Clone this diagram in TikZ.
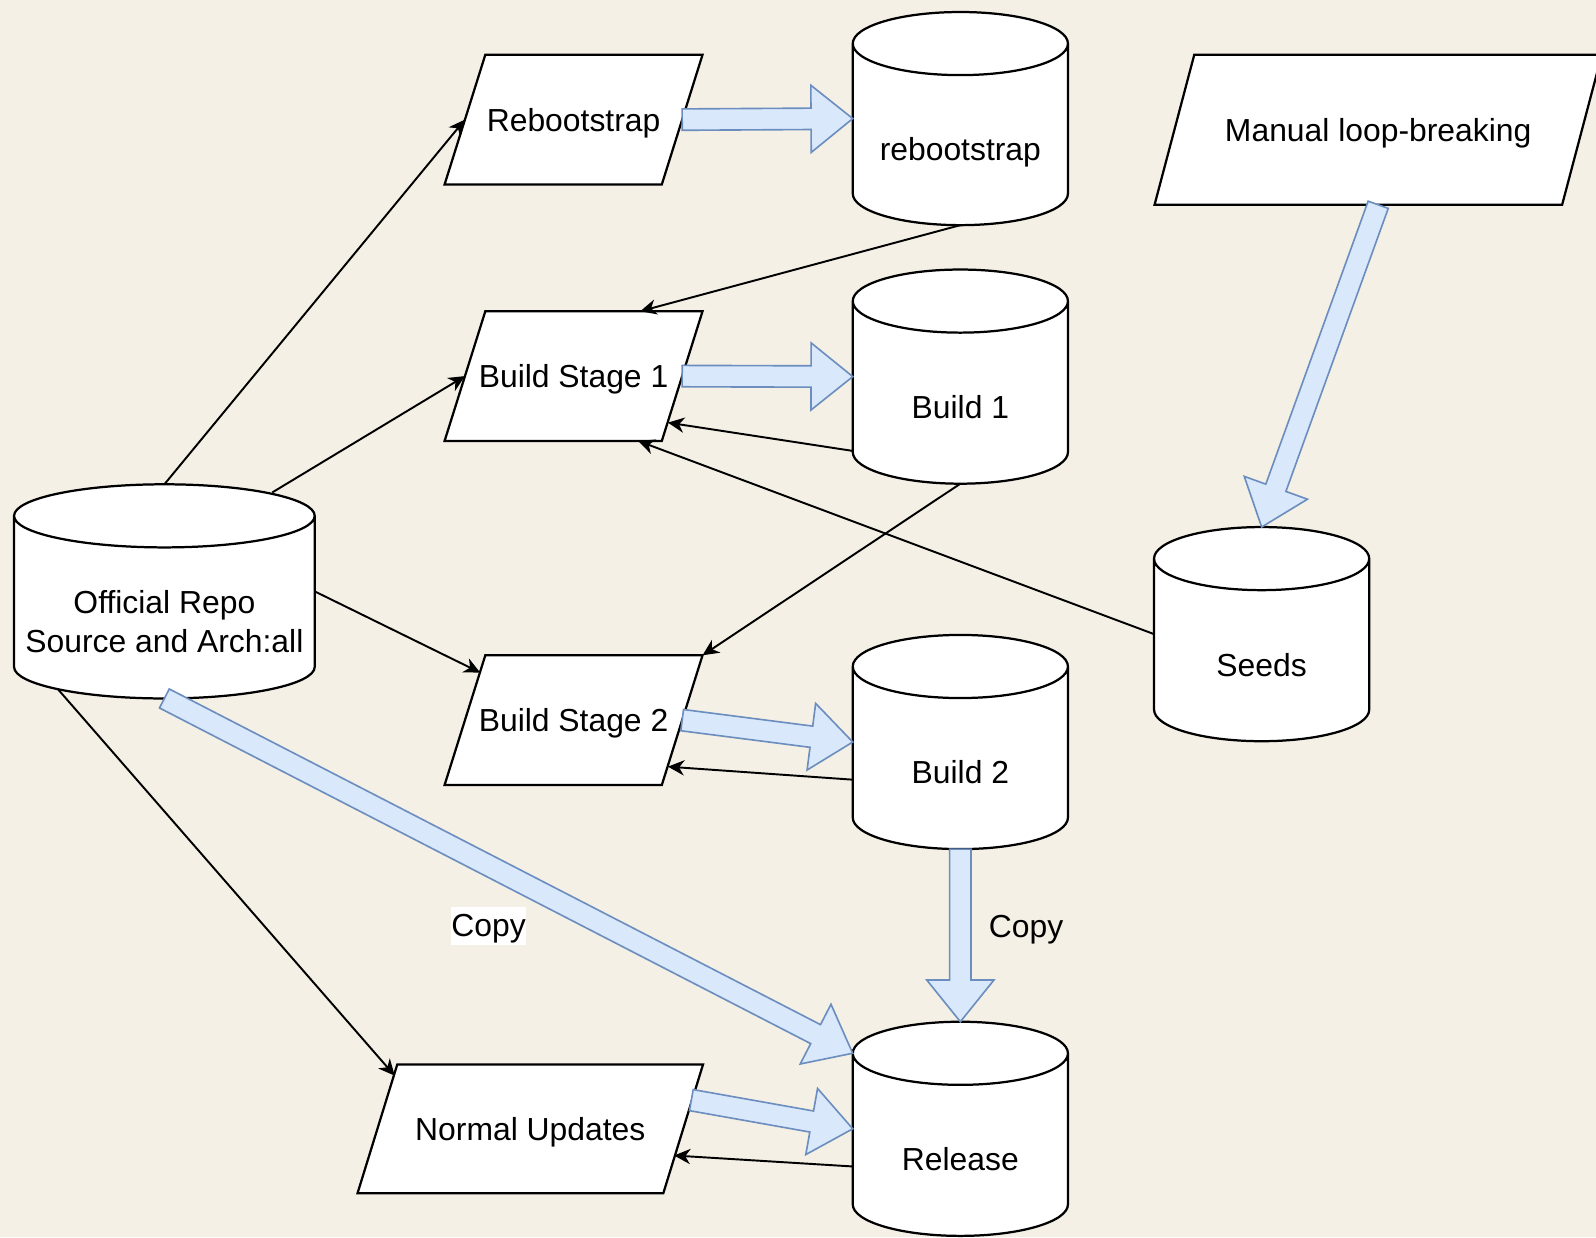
\documentclass[tikz,border=0pt]{standalone}
\usepackage{fontspec}
\setmainfont{Liberation Sans}
\usetikzlibrary{arrows.meta,calc}
\definecolor{bgc}{HTML}{F4F0E5}
\definecolor{flexfill}{HTML}{DAE8FC}
\definecolor{flexline}{HTML}{6C8EBF}
\pgfdeclarelayer{bglayer}
\pgfdeclarelayer{shapelayer}
\pgfsetlayers{bglayer,shapelayer,main}
\tikzset{
  geom/.style={rectangle, inner sep=0pt, draw=none},
  lbl/.style={font=\fontsize{31.3}{38}\selectfont, inner sep=0pt, align=center},
  one/.style={lbl, text height=22.4pt, text depth=0pt},
  shapeline/.style={draw=black, fill=white, line width=2.2pt, line join=miter},
  conn/.style={draw=black, line width=1.9pt, -{Stealth[length=16pt,width=15pt,inset=5pt]}},
  flex/.style={draw=flexline, fill=flexfill, line width=1.6pt, line join=miter},
  copybox/.style={lbl, fill=white, inner xsep=0.5pt, inner ysep=0pt, text height=29pt, text depth=8pt}
}
\newcommand\drawcyl[1]{%
  \path[shapeline] let \p1=(#1.north west), \p2=(#1.south east), \n1={(\x2-\x1)/2} in
    (\x1,\y1-31pt) -- (\x1,\y2+31pt) arc[start angle=180,end angle=360,x radius=\n1,y radius=31pt]
    -- (\x2,\y1-31pt) arc[start angle=0,end angle=180,x radius=\n1,y radius=31pt] -- cycle
    (\x1,\y1-31pt) arc[start angle=180,end angle=360,x radius=\n1,y radius=31pt];
}
\newcommand\drawpara[2]{%
  \path[shapeline] let \p1=(#1.north west), \p2=(#1.south east), \n1={#2/2} in
    (\x1+\n1,\y1) -- (\x2+\n1,\y1) -- (\x2-\n1,\y2) -- (\x1-\n1,\y2) -- cycle;
}
\newcommand\flexarrow[2]{%
  \path[flex] let \p1=(#1), \p2=(#2), \n1={atan2(\y2-\y1,\x2-\x1)}, \n2={veclen(\x2-\x1,\y2-\y1)} in
    [shift={(\p1)}, rotate=\n1] (0pt,-10.5pt) -- (\n2-41pt,-10.5pt) -- (\n2-41pt,-33pt) -- (\n2,0pt)
    -- (\n2-41pt,33pt) -- (\n2-41pt,10.5pt) -- (0pt,10.5pt) -- cycle;
}
\begin{document}
\begin{tikzpicture}[x=1pt, y=1pt]
\path[use as bounding box] (0,0) rectangle (1568,-1215.3);
\begin{pgfonlayer}{bglayer}
  \fill[bgc] (0,0) rectangle (1568,-1215.3);
\end{pgfonlayer}

% parallelograms (process nodes)
\node[geom, one, minimum width=213pt, minimum height=127pt] (rbs) at (563.5,-117.5) {Rebootstrap};
\node[geom, one, minimum width=213pt, minimum height=127pt] (bs1) at (563.5,-369.5) {Build Stage 1};
\node[geom, one, minimum width=213pt, minimum height=127pt] (bs2) at (563.5,-707.5) {Build Stage 2};
\node[geom, one, minimum width=300pt, minimum height=126pt] (nu) at (521,-1109) {Normal Updates};
\node[geom, one, minimum width=400pt, minimum height=147pt] (man) at (1354,-127.5) {Manual loop-breaking};

% cylinders (geometry)
\node[geom, minimum width=211pt, minimum height=209pt] (rbdb) at (943.5,-116.5) {};
\node[geom, minimum width=211pt, minimum height=210pt] (b1) at (943.5,-370) {};
\node[geom, minimum width=211pt, minimum height=210pt] (b2) at (943.5,-729) {};
\node[geom, minimum width=211pt, minimum height=210pt] (rel) at (943.5,-1109) {};
\node[geom, minimum width=211pt, minimum height=210pt] (seeds) at (1239.5,-623) {};
\node[geom, minimum width=295pt, minimum height=210pt] (repo) at (161.5,-581) {};

\begin{pgfonlayer}{shapelayer}
  \drawpara{rbs}{40}
  \drawpara{bs1}{40}
  \drawpara{bs2}{40}
  \drawpara{nu}{39}
  \drawpara{man}{39}
  \drawcyl{rbdb}
  \drawcyl{b1}
  \drawcyl{b2}
  \drawcyl{rel}
  \drawcyl{seeds}
  \drawcyl{repo}
\end{pgfonlayer}

% cylinder labels
\node[one] (rbdb-t) at ($(rbdb.center)+(0,-30)$) {rebootstrap};
\node[one] (b1-t) at ($(b1.center)+(0,-30)$) {Build 1};
\node[one] (b2-t) at ($(b2.center)+(0,-30)$) {Build 2};
\node[one] (rel-t) at ($(rel.center)+(0,-30)$) {Release};
\node[one] (seeds-t) at ($(seeds.center)+(0,-30)$) {Seeds};
\node[lbl] (repo-t) at ($(repo.center)+(0,-30)$) {Official Repo\\Source and Arch:all};

% thin connectors
\draw[conn] (repo.north) -- (rbs.west);
\draw[conn] ($(repo.north)+(106,-8)$) -- (bs1.west);
\draw[conn] (repo.east) -- ($(bs2.north west)+(15,-17)$);
\draw[conn] ($(repo.south)+(-104.5,9)$) -- ($(nu.north west)+(17,-11)$);
\draw[conn] (rbdb.south) -- ($(bs1.north)+(65.5,0)$);
\draw[conn] ($(b1.west)+(0,-73)$) -- ($(bs1.south east)+(-14,18)$);
\draw[conn] (seeds.west) -- ($(bs1.south)+(63.5,0)$);
\draw[conn] (b1.south) -- ($(bs2.north east)+(20,0)$);
\draw[conn] ($(b2.west)+(0,-37)$) -- ($(bs2.south east)+(-14,18)$);
\draw[conn] ($(rel.west)+(0,-37)$) -- ($(nu.south east)+(-9,37)$);

% block arrows
\flexarrow{rbs.east}{rbdb.west}
\flexarrow{bs1.east}{b1.west}
\flexarrow{bs2.east}{b2.west}
\flexarrow{man.south}{seeds.north}
\flexarrow{repo.south}{$(rel.north west)+(0,-31)$}
\flexarrow{b2.south}{rel.north}
\flexarrow{$(nu.north east)+(8,-35)$}{rel.west}

% labels
\node[copybox] (copy1) at (480,-909.5) {Copy};
\node[one] (copy2) at (1008,-910) {Copy};
\end{tikzpicture}
\end{document}
